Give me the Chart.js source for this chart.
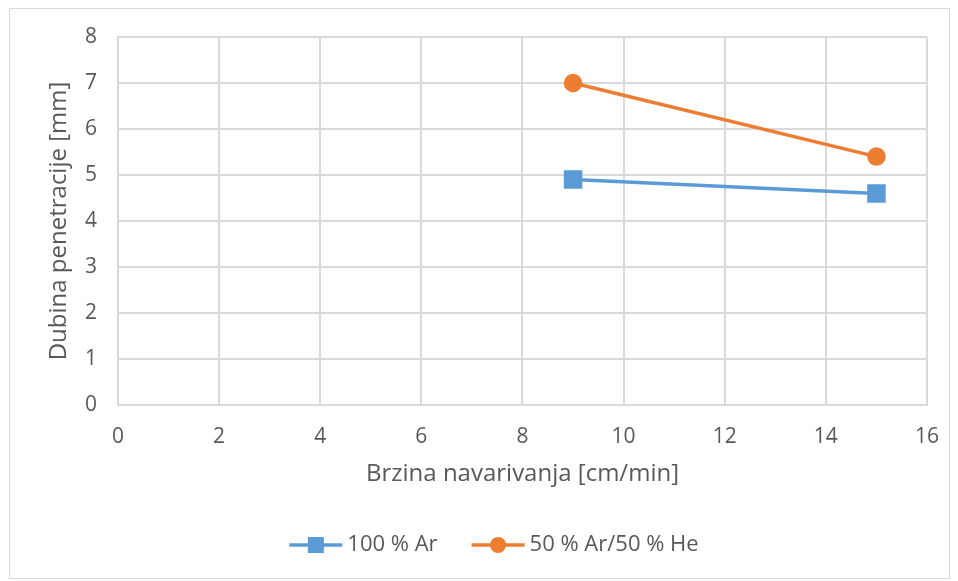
<!DOCTYPE html>
<html>
<head>
<meta charset="utf-8">
<script src="https://cdn.jsdelivr.net/npm/chart.js@4"></script>
<style>
  html, body { margin: 0; padding: 0; background: #fff; }
  #wrap { width: 958px; height: 581px; position: relative; }
</style>
</head>
<body>
<div id="wrap"><canvas id="chart"></canvas></div>
<script>
// data
const speeds = [9, 15]
const argon = [4.9, 4.6]
const argonHelium = [7.0, 5.4]
const seriesNames = ['100 % Ar', '50 % Ar/50 % He']
const xTitle = 'Brzina navarivanja [cm/min]'
const yTitle = 'Dubina penetracije [mm]'

const textColor = '#595959'
const gridColor = '#d9d9d9'
const fontFamily = '"Open Sans", "DejaVu Sans", sans-serif'

function toPoints(xs, ys) {
    return xs.map((x, i) => ({ x: x, y: ys[i] }))
}

// frame round the whole chart, like the office export
const framePlugin = {
    id: 'frame',
    beforeDraw(chart) {
        const ctx = chart.ctx
        ctx.save()
        ctx.fillStyle = '#fff'
        ctx.fillRect(0, 0, chart.width, chart.height)
        ctx.strokeStyle = gridColor
        ctx.lineWidth = 1
        ctx.strokeRect(9.5, 8.5, 940, 570)
        ctx.restore()
    }
}

// legend with line + marker, drawn from the datasets
const lineLegend = {
    id: 'lineLegend',
    afterDraw(chart) {
        const ctx = chart.ctx
        const y = 545
        const lineLen = 53
        const gapText = 5
        const gapItems = 34
        ctx.save()
        ctx.font = '22px ' + fontFamily
        ctx.textBaseline = 'middle'
        const items = chart.data.datasets.map(ds => ({
            ds: ds,
            w: lineLen + gapText + ctx.measureText(ds.label).width
        }))
        let total = items.reduce((s, it) => s + it.w, 0) + gapItems * (items.length - 1)
        let x = 494 - total / 2
        for (let it of items) {
            const ds = it.ds
            ctx.strokeStyle = ds.borderColor
            ctx.lineWidth = 3.5
            ctx.beginPath()
            ctx.moveTo(x, y)
            ctx.lineTo(x + lineLen, y)
            ctx.stroke()
            ctx.fillStyle = ds.backgroundColor
            const cx = x + lineLen / 2
            if (ds.pointStyle === 'rect') {
                ctx.fillRect(cx - 8, y - 8, 16, 16)
            } else {
                ctx.beginPath()
                ctx.arc(cx, y, 8, 0, Math.PI * 2)
                ctx.fill()
            }
            ctx.fillStyle = textColor
            ctx.textAlign = 'left'
            ctx.fillText(ds.label, x + lineLen + gapText, y)
            x += it.w + gapItems
        }
        ctx.restore()
    }
}

new Chart(document.querySelector('#chart'), {
    type: 'scatter',
    data: {
        datasets: [{
            label: seriesNames[0],
            data: toPoints(speeds, argon),
            showLine: true,
            borderColor: '#5B9BD5',
            backgroundColor: '#5B9BD5',
            borderWidth: 3.5,
            pointStyle: 'rect',
            pointRadius: 10.6,
            pointHoverRadius: 10.6
        }, {
            label: seriesNames[1],
            data: toPoints(speeds, argonHelium),
            showLine: true,
            borderColor: '#ED7D31',
            backgroundColor: '#ED7D31',
            borderWidth: 3.5,
            pointStyle: 'circle',
            pointRadius: 7.5,
            pointHoverRadius: 7.5
        }]
    },
    options: {
        responsive: true,
        maintainAspectRatio: false,
        animation: false,
        layout: { padding: { top: 37, right: 29, bottom: 80, left: 0 } },
        plugins: {
            legend: { display: false },
            tooltip: { enabled: false }
        },
        scales: {
            x: {
                type: 'linear',
                min: 0,
                max: 16,
                ticks: { stepSize: 2, color: textColor, padding: 19, font: { size: 21, family: fontFamily } },
                grid: { color: gridColor, lineWidth: 2, drawTicks: false },
                border: { color: gridColor, width: 2 },
                title: { display: true, text: xTitle, color: textColor, font: { size: 24, family: fontFamily }, padding: { top: 0, bottom: 12 } },
                afterFit(scale) { scale.height = 96 }
            },
            y: {
                min: 0,
                max: 8,
                ticks: { stepSize: 1, color: textColor, padding: 21, font: { size: 21, family: fontFamily } },
                grid: { color: gridColor, lineWidth: 2, drawTicks: false },
                border: { color: gridColor, width: 2 },
                title: { display: true, text: yTitle, color: textColor, font: { size: 24, family: fontFamily }, padding: { top: 45, bottom: 0 } },
                afterFit(scale) { scale.width = 118 }
            }
        }
    },
    plugins: [framePlugin, lineLegend]
})
</script>
</body>
</html>
